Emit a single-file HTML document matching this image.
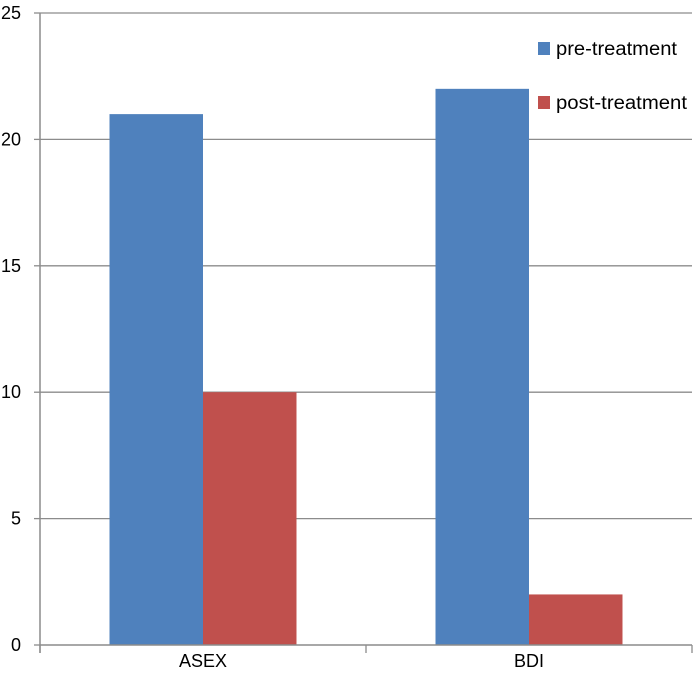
<!DOCTYPE html>
<html><head><meta charset="utf-8"><style>
html,body{margin:0;padding:0;background:#fff;}
svg{display:block;font-family:"Liberation Sans",sans-serif;}
</style></head><body>
<svg id="chart" width="695" height="695" viewBox="0 0 695 695"></svg>
<script>
const categories = ["ASEX", "BDI"];
const seriesNames = ["pre-treatment", "post-treatment"];
const preValues = [21, 22];
const postValues = [10, 2];
const yTicks = [0, 5, 10, 15, 20, 25];

const svg = document.getElementById('chart');
const NS = 'http://www.w3.org/2000/svg';
const x0 = 40, x1 = 692, yTop = 13, yBot = 645, yMax = 25;
const colors = ['#4f81bd', '#c0504d'];
function yScale(v){ return yBot - (v / yMax) * (yBot - yTop); }
const catW = (x1 - x0) / categories.length;
function make(tag, attrs){ const e = document.createElementNS(NS, tag); for (const k in attrs) e.setAttribute(k, attrs[k]); svg.appendChild(e); return e; }

yTicks.forEach(t => {
  const y = yScale(t);
  if (t > 0) {
    const g = make('line', {x1: x0, x2: x1, y1: y, y2: y, stroke: '#8c8c8c', 'stroke-width': 1.3});
    
    
  }
  const tk = make('line', {x1: 34, x2: x0, y1: y, y2: y, stroke: '#8c8c8c', 'stroke-width': 1.3});
  
  
  const lb = make('text', {x: 21, y: y + 6, 'font-size': 18, 'text-anchor': 'end', fill: '#000'});
  lb.textContent = t;
  
  
});

const series = [preValues, postValues];
categories.forEach((c, i) => {
  const cx = x0 + catW * (i + 0.5);
  const bw = 93.5;
  series.forEach((vals, s) => {
    const bx = cx - bw + s * bw;
    const r = make('rect', {x: bx, y: yScale(vals[i]), width: bw, height: yBot - yScale(vals[i]), fill: colors[s]});
    
    
  });
  const lb = make('text', {x: cx, y: 667, 'font-size': 18, 'text-anchor': 'middle', fill: '#000'});
  lb.textContent = c;
  
  
});
for (let i = 0; i <= categories.length; i++) {
  const x = x0 + catW * i;
  const t = make('line', {x1: x, x2: x, y1: yBot, y2: 653, stroke: '#8c8c8c', 'stroke-width': 1.3});
  
  
}
const xa = make('line', {x1: x0, x2: x1, y1: yBot, y2: yBot, stroke: '#8c8c8c', 'stroke-width': 1.5});


const ya = make('line', {x1: x0, x2: x0, y1: yTop, y2: 653, stroke: '#8c8c8c', 'stroke-width': 1.5});



seriesNames.forEach((n, s) => {
  const y = 42 + s * 54;
  const sq = make('rect', {x: 538, y: y, width: 12, height: 13, fill: colors[s]});
  
  
  const t = make('text', {x: 556, y: y + 13, 'font-size': 19, fill: '#000', textLength: s ? 131 : 121, lengthAdjust: 'spacingAndGlyphs'});
  t.textContent = n;
  
  
});
</script>
</body></html>
